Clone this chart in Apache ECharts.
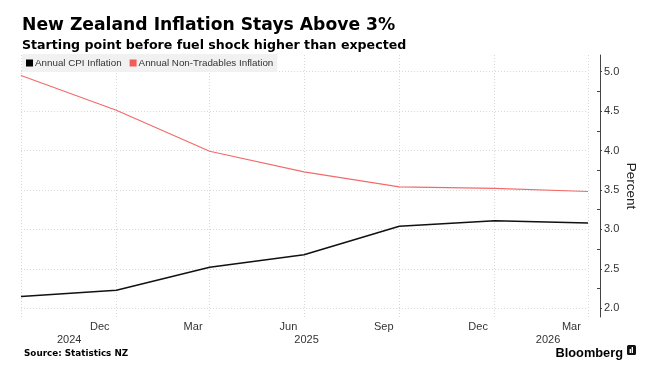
<!DOCTYPE html>
<html>
<head>
<meta charset="utf-8">
<script src="https://cdn.jsdelivr.net/npm/echarts@6/dist/echarts.min.js"></script>
<style>html,body{margin:0;padding:0;background:#fff;}#c{width:663px;height:371px;}</style>
</head>
<body>
<div id="c"></div>
<script>
// ---- data ----
const quarterDates = ['2024-09-30','2024-12-31','2025-03-31','2025-06-30','2025-09-30','2025-12-31','2026-03-31'];
const cpiInflation = [2.15, 2.23, 2.52, 2.68, 3.04, 3.11, 3.08];
const nonTradablesInflation = [4.95, 4.51, 3.99, 3.73, 3.54, 3.52, 3.48];
const monthLabelDates = ['2024-12-15','2025-03-15','2025-06-15','2025-09-15','2025-12-15','2026-03-15'];
const yearSpans = [['2024-09-30','2025-01-01'],['2025-01-01','2026-01-01'],['2026-01-01','2026-04-12']];
const yTickLabels = [2.0, 2.5, 3.0, 3.5, 4.0, 4.5, 5.0];
const yMinorTicks = [2.25, 2.75, 3.25, 3.75, 4.25, 4.75];

const FONT = 'Liberation Sans';
const HEAD = 'DejaVu Sans';
const ts = s => echarts.time.parse(s).getTime();
const quarterTs = quarterDates.map(ts);
const monthTs = monthLabelDates.map(ts);
const yearLabelValues = yearSpans.map(p => (ts(p[0]) + ts(p[1])) / 2);
const xMin = quarterTs[0], xMax = quarterTs[quarterTs.length - 1];

const chart = echarts.init(document.getElementById('c'), null, {renderer: 'canvas'});
chart.setOption({
  animation: false,
  backgroundColor: '#fff',
  title: [
    {text: 'New Zealand Inflation Stays Above 3%', left: 17, top: 12,
     textStyle: {fontFamily: HEAD, fontSize: 17.2, fontWeight: 'bold', color: '#000'}},
    {text: 'Starting point before fuel shock higher than expected', left: 17, top: 34,
     textStyle: {fontFamily: HEAD, fontSize: 12.6, fontWeight: 'bold', color: '#000'}},
    {text: 'Source: Statistics NZ', left: 19, top: 344,
     textStyle: {fontFamily: HEAD, fontSize: 8.8, fontWeight: 'bold', color: '#000'}},
    {text: 'Bloomberg', right: 35, top: 342,
     textStyle: {fontFamily: FONT, fontSize: 12.8, fontWeight: 'bold', color: '#000'}}
  ],
  graphic: [
    {type: 'rect', right: 27, top: 345, shape: {width: 9, height: 10, r: 1.5}, style: {fill: '#111'}},
    {type: 'rect', right: 32, top: 349, shape: {width: 1.4, height: 4}, style: {fill: '#fff'}},
    {type: 'rect', right: 30, top: 347, shape: {width: 1.4, height: 6}, style: {fill: '#fff'}}
  ],
  legend: {
    left: 22, top: 54, padding: [4, 4, 4, 4],
    backgroundColor: '#f1f1f1',
    itemWidth: 7, itemHeight: 7, itemGap: 8,
    icon: 'rect',
    textStyle: {fontFamily: FONT, fontSize: 9.8, color: '#333', padding: [0, 0, 0, -3]},
    data: ['Annual CPI Inflation', 'Annual Non-Tradables Inflation']
  },
  grid: {left: 21, right: 75, top: 55, bottom: 54, containLabel: false},
  xAxis: [
    {type: 'value', min: xMin, max: xMax,
     axisLine: {show: false},
     axisTick: {show: false, customValues: quarterTs},
     splitLine: {show: true, lineStyle: {color: '#d8d8d8', type: [1, 2], width: 1}},
     axisLabel: {customValues: monthTs, margin: 4, fontFamily: FONT, fontSize: 11, color: '#333',
       formatter: v => echarts.time.format(v, '{MMM}', false)}
    },
    {type: 'value', min: xMin, max: xMax,
     position: 'bottom', offset: 13,
     axisLine: {show: false}, axisTick: {show: false}, splitLine: {show: false},
     axisLabel: {customValues: yearLabelValues, margin: 4, fontFamily: FONT, fontSize: 11, color: '#333',
       formatter: v => echarts.time.format(v, '{yyyy}', false)}
    }
  ],
  yAxis: [
    {type: 'value', position: 'right', offset: 12, min: 1.89, max: 5.21,
     name: 'Percent', nameLocation: 'middle', nameRotate: -90, nameGap: 24, nameMoveOverlap: false,
     nameTextStyle: {fontFamily: FONT, fontSize: 13.5, color: '#222'},
     axisLine: {show: true, lineStyle: {color: '#444', width: 1}},
     axisTick: {show: true, length: 2, customValues: yTickLabels, lineStyle: {color: '#444'}},
     axisLabel: {customValues: yTickLabels, margin: 4, fontFamily: FONT, fontSize: 11, color: '#333',
       formatter: v => v.toFixed(1)},
     splitLine: {show: true, lineStyle: {color: '#d8d8d8', type: [1, 2], width: 1}}
    },
    {type: 'value', position: 'right', offset: 12, min: 1.89, max: 5.21,
     axisLine: {show: false},
     axisTick: {show: true, inside: true, length: 3, customValues: yMinorTicks, lineStyle: {color: '#444'}},
     axisLabel: {show: false}, splitLine: {show: false}
    }
  ],
  series: [
    {name: 'Annual CPI Inflation', type: 'line', xAxisIndex: 0, yAxisIndex: 0,
     data: quarterTs.map((d, i) => [d, cpiInflation[i]]),
     showSymbol: false, symbol: 'none', lineStyle: {color: '#111', width: 1.5}, itemStyle: {color: '#000'}},
    {name: 'Annual Non-Tradables Inflation', type: 'line', xAxisIndex: 0, yAxisIndex: 0,
     data: quarterTs.map((d, i) => [d, nonTradablesInflation[i]]),
     showSymbol: false, symbol: 'none', lineStyle: {color: '#f26b6b', width: 1.2}, itemStyle: {color: '#f25b5b'}}
  ]
});
</script>
</body>
</html>
